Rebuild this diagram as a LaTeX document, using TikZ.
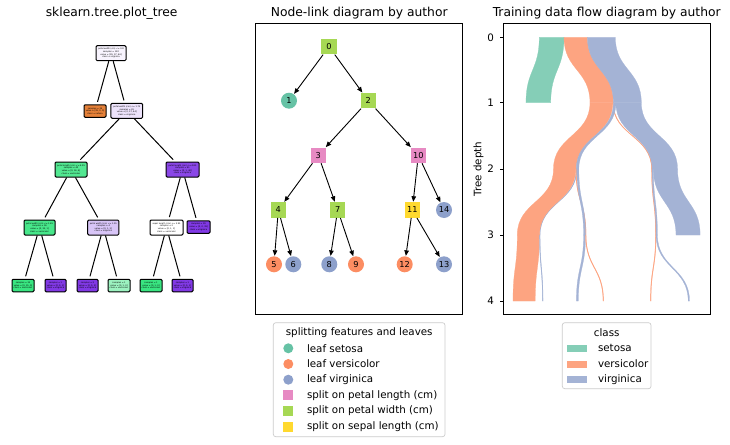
\documentclass[tikz,border=0pt]{standalone}
\usepackage{fontspec}
\setmainfont{DejaVu Sans}
\usetikzlibrary{arrows.meta}
\definecolor{s2teal}{HTML}{66C2A5}
\definecolor{s2orange}{HTML}{FC8D62}
\definecolor{s2blue}{HTML}{8DA0CB}
\definecolor{s2pink}{HTML}{E78AC3}
\definecolor{s2green}{HTML}{A6D854}
\definecolor{s2yellow}{HTML}{FFD92F}
\definecolor{flteal}{HTML}{85CEB7}
\definecolor{florange}{HTML}{FDA481}
\definecolor{flblue}{HTML}{A4B3D5}
\definecolor{skorange}{HTML}{E58139}
\definecolor{skgreen}{HTML}{39E581}
\definecolor{skpurple}{HTML}{8139E5}
\definecolor{skroot}{HTML}{F8F4FE}
\definecolor{sklav}{HTML}{EDE3FB}
\definecolor{skgreenA}{HTML}{52E891}
\definecolor{skpurpleA}{HTML}{8A47E7}
\definecolor{skgreenB}{HTML}{47E78A}
\definecolor{sklavB}{HTML}{D8C5F7}
\definecolor{sklightgreen}{HTML}{9CF2C0}
\definecolor{leggray}{HTML}{CCCCCC}
\newcommand{\flowband}[7]{%
  \pgfmathsetmacro\bandmid{(#2+#3)/2}%
  \fill[#1, draw=#1, line width=0.25pt] (#4,#2) .. controls (#4,\bandmid) and (#6,\bandmid) .. (#6,#3)
    -- (#7,#3) .. controls (#7,\bandmid) and (#5,\bandmid) .. (#5,#2) -- cycle;}
\tikzset{
  tbox/.style={draw=black, line width=1pt, rounded corners=1.2pt, inner sep=0.5pt, align=center,
    font=\fontsize{2.1}{2.6}\selectfont, minimum height=15pt},
  tleaf/.style={tbox, minimum height=12.5pt},
  tedge/.style={line width=1pt, shorten >=2.5pt},
  sqnode/.style={rectangle, minimum size=15.5pt, inner sep=0pt, font=\fontsize{8.2}{9}\selectfont},
  cinode/.style={circle, minimum size=16pt, inner sep=0pt, font=\fontsize{8.2}{9}\selectfont},
  arr/.style={-{Triangle[length=5.5pt,width=4.5pt]}, line width=0.9pt, shorten >=0.3pt},
  titlefont/.style={font=\fontsize{12.3}{14}\selectfont},
  legtext/.style={font=\fontsize{10.3}{12}\selectfont},
  legmark/.style={inner sep=0pt, minimum size=10pt},
  ticklab/.style={font=\fontsize{10.3}{12}\selectfont, anchor=east}
}
\begin{document}
\begin{tikzpicture}[x=1pt,y=-1pt]
\useasboundingbox (0,0) rectangle (730,444);
\fill[white] (0,0) rectangle (730,444);

% ---------- titles ----------
\node[titlefont, anchor=base] (t1) at (111.7,16.5) {sklearn.tree.plot\_tree};
\node[titlefont, anchor=base] (t2) at (359.2,16.5) {Node-link diagram by author};
\node[titlefont, anchor=base] (t3) at (606.7,16.5) {Training data flow diagram by author};

% ---------- left: sklearn tree ----------
\node[tbox, fill=skroot, minimum width=30pt] (a0) at (111,53.2) {petal width (cm) <= 0.8\\samples = 120\\value = [39, 37, 44]\\class = virginica};
\node[tleaf, fill=skorange, minimum width=22pt] (a1) at (95,111) {samples = 39\\value = [39, 0, 0]\\class = setosa};
\node[tbox, fill=sklav, minimum width=31.7pt] (a2) at (126.8,110.8) {petal width (cm) <= 1.75\\samples = 81\\value = [0, 37, 44]\\class = virginica};
\node[tbox, fill=skgreenA, minimum width=32pt] (a3) at (71,169.5) {petal length (cm) <= 4.95\\samples = 40\\value = [0, 36, 4]\\class = versicolor};
\node[tbox, fill=skpurpleA, minimum width=33pt] (a10) at (182.5,169.5) {petal length (cm) <= 4.85\\samples = 41\\value = [0, 1, 40]\\class = virginica};
\node[tbox, fill=skgreenB, minimum width=31pt] (a4) at (39.5,227.5) {petal width (cm) <= 1.65\\samples = 36\\value = [0, 35, 1]\\class = versicolor};
\node[tbox, fill=sklavB, minimum width=31.3pt] (a7) at (103.3,227.5) {petal width (cm) <= 1.55\\samples = 4\\value = [0, 1, 3]\\class = virginica};
\node[tbox, fill=white, minimum width=33pt] (a11) at (166.5,227.5) {sepal length (cm) <= 5.95\\samples = 2\\value = [0, 1, 1]\\class = versicolor};
\node[tleaf, fill=skpurple, minimum width=23pt] (a14) at (198.5,227) {samples = 39\\value = [0, 0, 39]\\class = virginica};
\node[tleaf, fill=skgreen, minimum width=22pt] (a5) at (23,285.5) {samples = 35\\value = [0, 35, 0]\\class = versicolor};
\node[tleaf, fill=skpurple, minimum width=21pt] (a6) at (55.5,285.5) {samples = 1\\value = [0, 0, 1]\\class = virginica};
\node[tleaf, fill=skpurple, minimum width=21pt] (a8) at (87.5,285.5) {samples = 3\\value = [0, 0, 3]\\class = virginica};
\node[tleaf, fill=sklightgreen, minimum width=22pt] (a9) at (119,285.5) {samples = 1\\value = [0, 1, 0]\\class = versicolor};
\node[tleaf, fill=skgreen, minimum width=22pt] (a12) at (151,285.5) {samples = 1\\value = [0, 1, 0]\\class = versicolor};
\node[tleaf, fill=skpurple, minimum width=21pt] (a13) at (182.5,285.5) {samples = 1\\value = [0, 0, 1]\\class = virginica};
\foreach \p/\c in {a0/a1,a0/a2,a2/a3,a2/a10,a3/a4,a3/a7,a10/a11,a10/a14,a4/a5,a4/a6,a7/a8,a7/a9,a11/a12,a11/a13}
  \draw[tedge] (\p) -- (\c);

% ---------- middle: node-link ----------
\draw[line width=0.9pt] (255.7,23.3) rectangle (462.7,314);
\node[sqnode, fill=s2green] (n0) at (329,46.7) {0};
\node[cinode, fill=s2teal] (n1) at (289,100.7) {1};
\node[sqnode, fill=s2green] (n2) at (368.3,100.7) {2};
\node[sqnode, fill=s2pink] (n3) at (318.3,155.3) {3};
\node[sqnode, fill=s2pink] (n10) at (418.3,155.3) {10};
\node[sqnode, fill=s2green] (n4) at (278.3,210) {4};
\node[sqnode, fill=s2green] (n7) at (337.7,210) {7};
\node[sqnode, fill=s2yellow] (n11) at (412.3,210) {11};
\node[cinode, fill=s2blue] (n14) at (444,210) {14};
\node[cinode, fill=s2orange] (n5) at (274,264.3) {5};
\node[cinode, fill=s2blue] (n6) at (293.3,264.3) {6};
\node[cinode, fill=s2blue] (n8) at (329.3,264.3) {8};
\node[cinode, fill=s2orange] (n9) at (356,264.3) {9};
\node[cinode, fill=s2orange] (n12) at (404.7,264.3) {12};
\node[cinode, fill=s2blue] (n13) at (444,264.3) {13};
\foreach \p/\c in {n0/n1,n0/n2,n2/n3,n2/n10,n3/n4,n3/n7,n4/n5,n4/n6,n7/n8,n7/n9,n10/n11,n10/n14,n11/n12,n11/n13}
  \draw[arr] (\p) -- (\c);

% legend (middle)
\draw[leggray, line width=0.7pt, fill=white, rounded corners=2.5pt] (273.3,322.7) rectangle (445,436.7);
\node[legtext] (lg0) at (359.2,332.7) {splitting features and leaves};
\node[legmark, circle, fill=s2teal] (lm1) at (288.3,348.3) {};
\node[legmark, circle, fill=s2orange] (lm2) at (288.3,364) {};
\node[legmark, circle, fill=s2blue] (lm3) at (288.3,379.7) {};
\node[legmark, rectangle, fill=s2pink] (lm4) at (288.3,395.4) {};
\node[legmark, rectangle, fill=s2green] (lm5) at (288.3,411.1) {};
\node[legmark, rectangle, fill=s2yellow] (lm6) at (288.3,426.8) {};
\node[legtext, anchor=west] (lt1) at (303.5,348.3) {leaf setosa};
\node[legtext, anchor=west] (lt2) at (303.5,364) {leaf versicolor};
\node[legtext, anchor=west] (lt3) at (303.5,379.7) {leaf virginica};
\node[legtext, anchor=west] (lt4) at (303.5,395.4) {split on petal length (cm)};
\node[legtext, anchor=west] (lt5) at (303.5,411.1) {split on petal width (cm)};
\node[legtext, anchor=west] (lt6) at (303.5,426.8) {split on sepal length (cm)};

% ---------- right: flow diagram ----------
% depth 0 -> 1
\flowband{flteal}{37.3}{102.7}{539.3}{564.0}{526.0}{550.7}
\flowband{florange}{37.3}{102.7}{564.0}{587.4}{590.0}{613.4}
\flowband{flblue}{37.3}{102.7}{587.4}{615.3}{613.4}{641.3}
% depth 1 -> 2
\flowband{florange}{102.7}{169}{612.8}{613.4}{651.5}{652.1}
\flowband{flblue}{102.7}{169}{615.9}{641.3}{652.1}{677.5}
\flowband{florange}{102.7}{169}{590.0}{612.8}{553.5}{576.3}
\flowband{flblue}{102.7}{169}{613.4}{615.9}{576.3}{578.8}
% depth 2 -> 3
\flowband{flblue}{169}{235}{576.3}{576.9}{539.5}{540.1}
\flowband{florange}{169}{235}{553.5}{575.7}{517.3}{539.5}
\flowband{flblue}{169}{235}{653.4}{677.5}{676.0}{700.1}
\flowband{florange}{169}{235}{575.7}{576.3}{585.5}{586.1}
\flowband{flblue}{169}{235}{576.9}{578.8}{583.6}{585.5}
\flowband{florange}{169}{235}{651.5}{652.1}{655.5}{656.1}
\flowband{flblue}{169}{235}{652.1}{653.4}{656.1}{657.4}
% depth 3 -> 4
\flowband{florange}{235}{301}{517.3}{539.5}{513.0}{535.2}
\flowband{flblue}{235}{301}{539.5}{540.1}{542.4}{543.0}
\flowband{flblue}{235}{301}{583.6}{585.5}{576.4}{578.3}
\flowband{florange}{235}{301}{585.5}{586.1}{603.0}{603.6}
\flowband{florange}{235}{301}{655.5}{656.1}{650.4}{651.0}
\flowband{flblue}{235}{301}{656.1}{657.4}{688.2}{689.5}

\draw[line width=0.9pt] (503.3,23.3) rectangle (710,314);
\foreach \d/\yy in {0/37.3,1/102.7,2/169,3/235,4/301}{
  \draw[line width=0.8pt] (503.3,\yy) -- (499.8,\yy);
  \node[ticklab] (tk\d) at (497.5,\yy) {\d};
}
\node[legtext, rotate=90] (ylab) at (478.5,169) {Tree depth};

% legend (right)
\draw[leggray, line width=0.7pt, fill=white, rounded corners=2.5pt] (562.3,322.7) rectangle (651,388.7);
\node[legtext] (rg0) at (606.7,332.7) {class};
\fill[flteal] (566.7,344.8) rectangle (587.3,351.8);
\fill[florange] (566.7,360.5) rectangle (587.3,367.5);
\fill[flblue] (566.7,376.2) rectangle (587.3,383.2);
\node[legtext, anchor=west] (rt1) at (594.5,348.3) {setosa};
\node[legtext, anchor=west] (rt2) at (594.5,364) {versicolor};
\node[legtext, anchor=west] (rt3) at (594.5,379.7) {virginica};
\end{tikzpicture}
\end{document}
